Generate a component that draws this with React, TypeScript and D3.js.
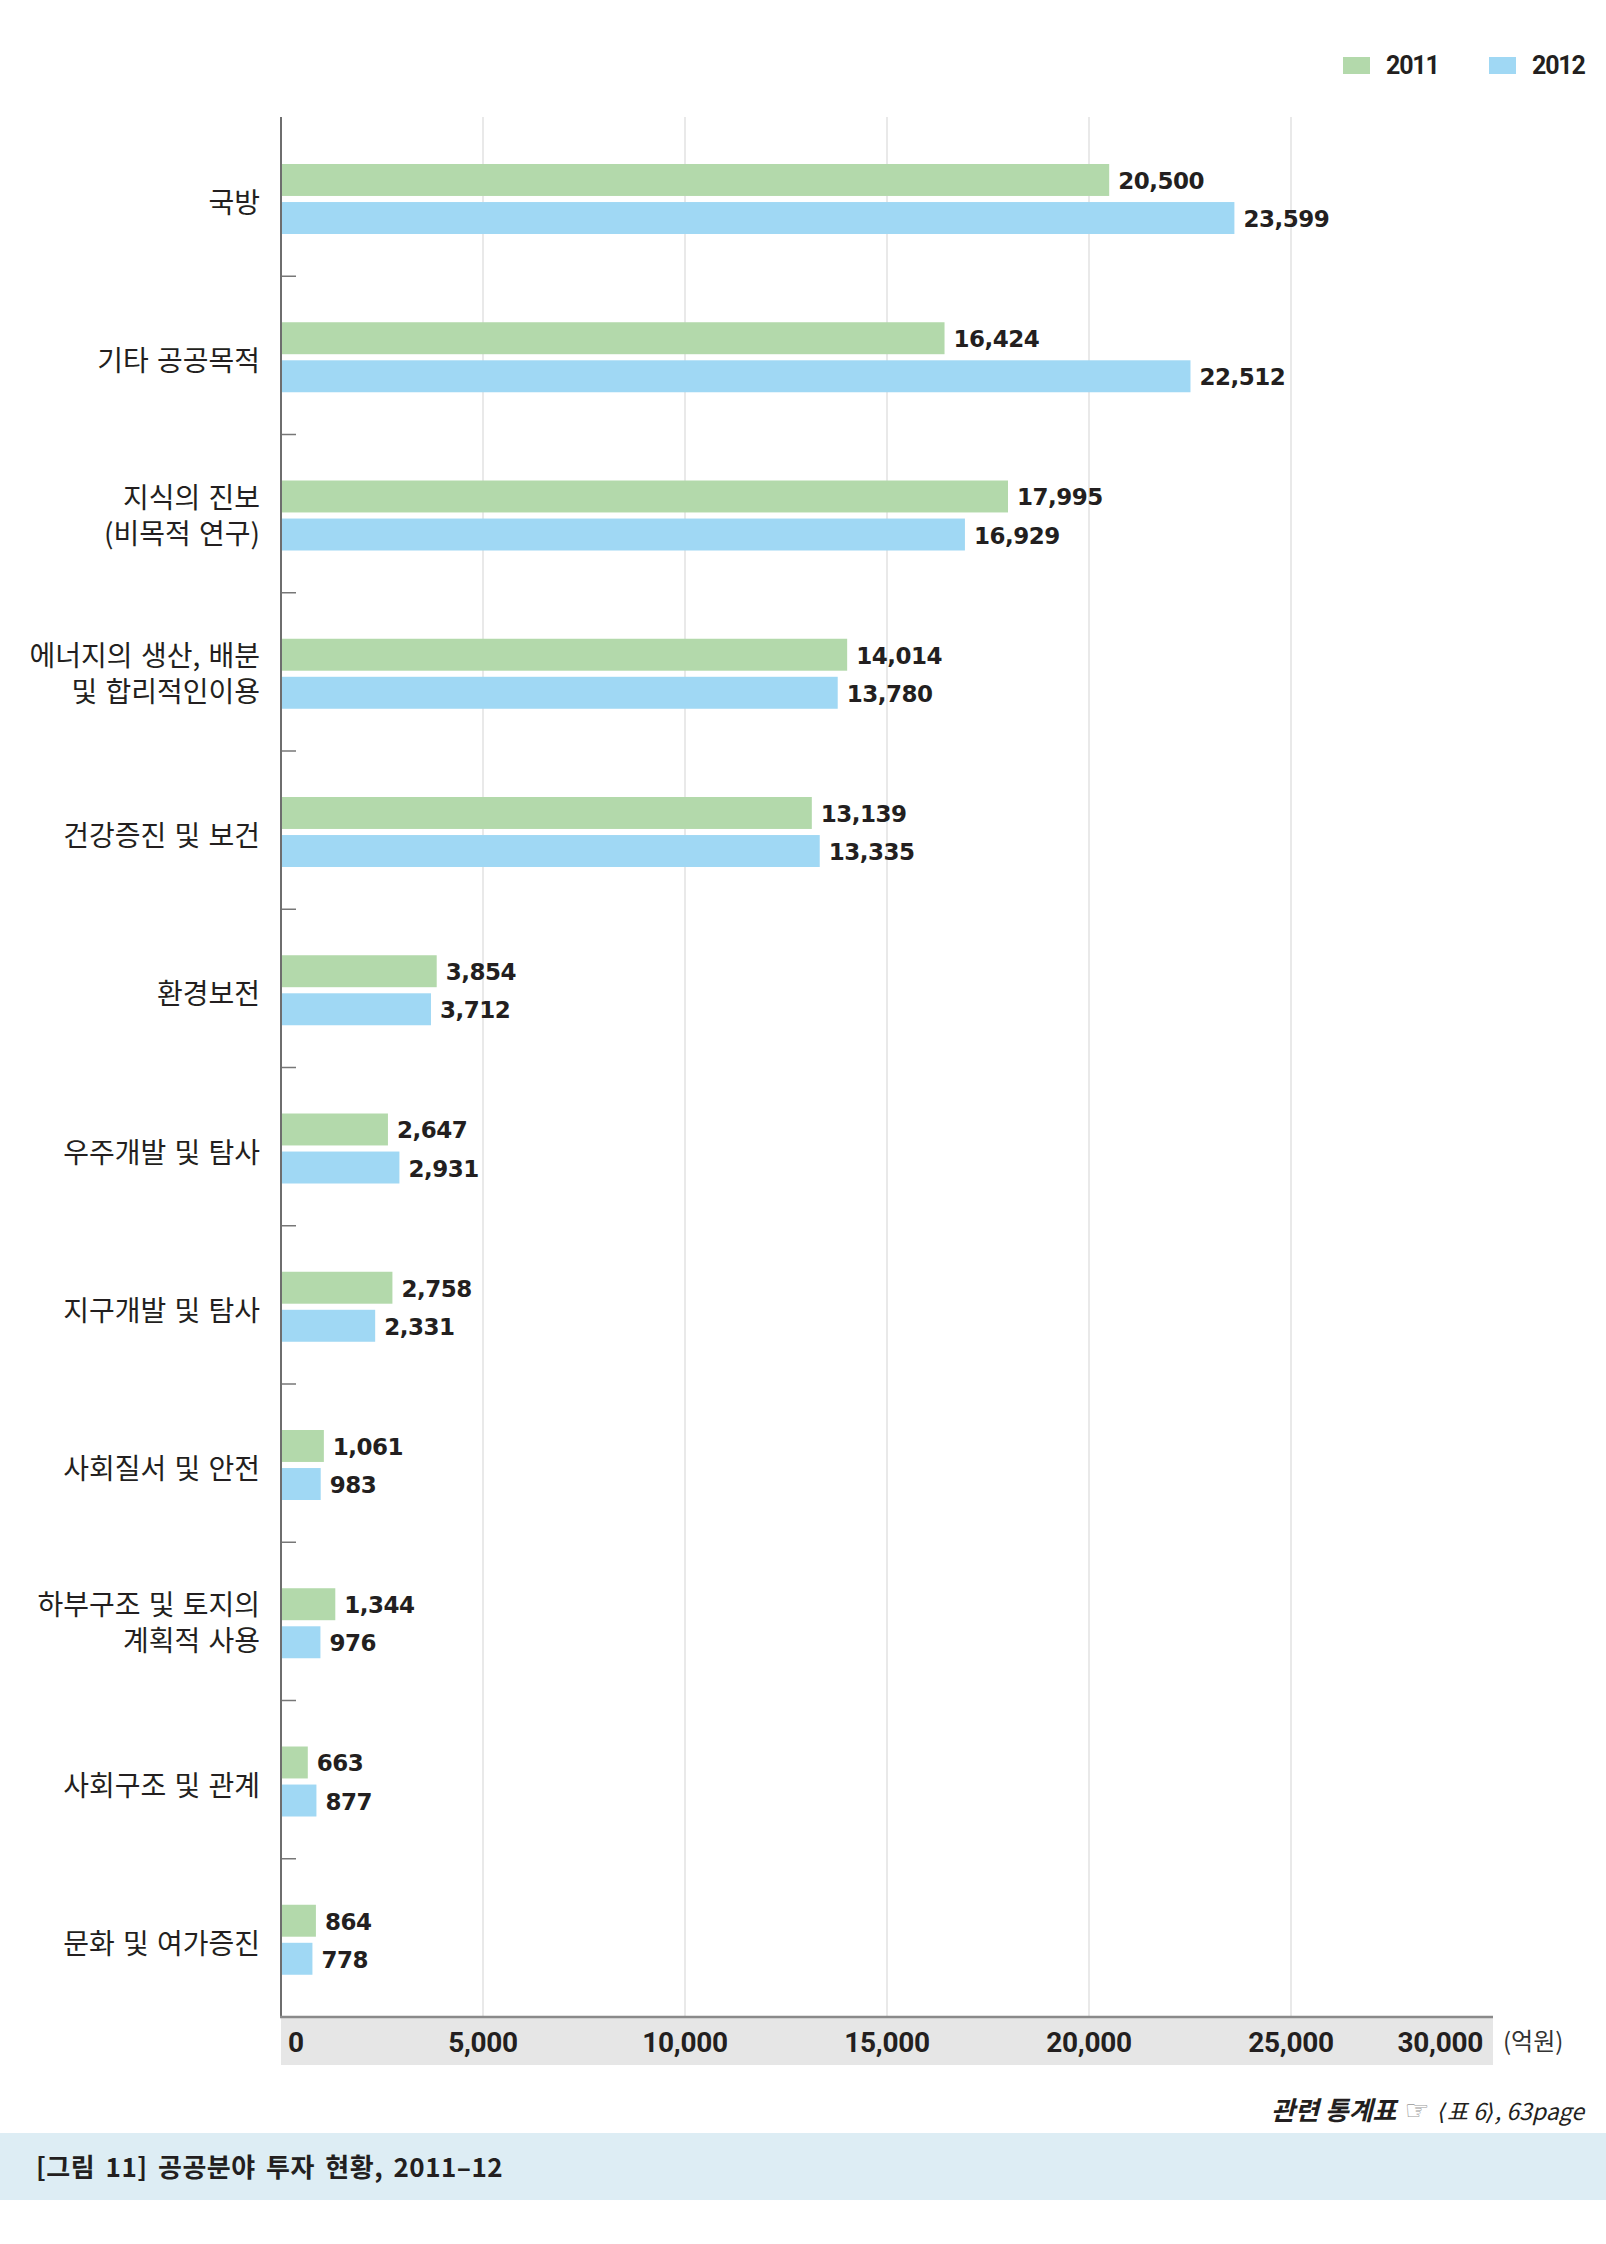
import React from "react";
import * as d3 from "d3";

const categories: string[][] = [
  ["국방"],
  ["기타 공공목적"],
  ["지식의 진보", "(비목적 연구)"],
  ["에너지의 생산, 배분", "및 합리적인이용"],
  ["건강증진 및 보건"],
  ["환경보전"],
  ["우주개발 및 탐사"],
  ["지구개발 및 탐사"],
  ["사회질서 및 안전"],
  ["하부구조 및 토지의", "계획적 사용"],
  ["사회구조 및 관계"],
  ["문화 및 여가증진"],
];
const series = ["2011", "2012"];
const values2011 = [20500, 16424, 17995, 14014, 13139, 3854, 2647, 2758, 1061, 1344, 663, 864];
const values2012 = [23599, 22512, 16929, 13780, 13335, 3712, 2931, 2331, 983, 976, 877, 778];
const xTicks = [0, 5000, 10000, 15000, 20000, 25000, 30000];
const unitLabel = "(억원)";
const caption = "[그림 11] 공공분야 투자 현황, 2011–12";

const COLORS: Record<string, string> = { "2011": "#b3d9ab", "2012": "#a0d8f4" };
const TEXT = "#231f20";
const KR = "'Noto Sans CJK KR', 'Noto Sans', sans-serif";
const NUM = "'DejaVu Sans', sans-serif";
const TICKF = "Roboto, 'Noto Sans', sans-serif";

export default function App() {
  const W = 1606, H = 2244;
  const left = 281, right = 1493, top = 118, bottom = 2017;
  const x = d3.scaleLinear().domain([0, 30000]).range([left, right]);
  const keys = categories.map((c) => c.join(" "));
  const y = d3.scaleBand<string>().domain(keys).range([top, bottom]).padding(0);
  const inner = d3.scaleBand<string>().domain(series).range([46, 116]).paddingInner(0.16);
  const fmt = d3.format(",");
  const vals: Record<string, number[]> = { "2011": values2011, "2012": values2012 };

  return (
    <svg width={W} height={H} style={{ position: "absolute", left: 0, top: 0, background: "#fff" }}>
      {/* legend */}
      {series.map((s, i) => (
        <g key={s} transform={`translate(${1343 + i * 146},0)`}>
          <rect x={0} y={57} width={27} height={17} fill={COLORS[s]} />
          <text x={43} y={74} fontFamily={TICKF} fontWeight={700} fontSize={25} letterSpacing={-1.2} fill={TEXT}>{s}</text>
        </g>
      ))}

      {/* gridlines */}
      {xTicks.filter((t) => t > 0 && t < 30000).map((t) => (
        <line key={t} x1={x(t)} x2={x(t)} y1={top - 1} y2={bottom} stroke="#e2e2e2" strokeWidth={1.5} />
      ))}

      {/* bars */}
      {keys.map((k, ci) => (
        <g key={k}>
          {series.map((s) => {
            const v = vals[s][ci];
            const by = (y(k) as number) + (inner(s) as number);
            const bh = inner.bandwidth();
            return (
              <g key={s}>
                <rect x={x(0)} y={by} width={x(v) - x(0)} height={bh} fill={COLORS[s]} />
                <text x={x(v) + 9} y={by + bh / 2 + 9} fontFamily={NUM} fontWeight={700} fontSize={23} letterSpacing={-0.5} fill={TEXT}>
                  {fmt(v)}
                </text>
              </g>
            );
          })}
          {/* category labels */}
          {categories[ci].length === 1 ? (
            <text x={260} y={(y(k) as number) + 81 + 2} dominantBaseline="central" textAnchor="end" fontFamily={KR} fontSize={28} wordSpacing={2} fill={TEXT}>
              {categories[ci][0]}
            </text>
          ) : (
            categories[ci].map((line, li) => (
              <text key={li} x={260} y={(y(k) as number) + 79 + (li === 0 ? -18 : 18)}
                dominantBaseline="central" textAnchor="end" fontFamily={KR} fontSize={28} wordSpacing={2} fill={TEXT}>
                {line}
              </text>
            ))
          )}
        </g>
      ))}

      {/* separator ticks */}
      {keys.slice(1).map((k) => (
        <line key={k} x1={left} x2={left + 15} y1={y(k) as number} y2={y(k) as number} stroke="#777" strokeWidth={1.5} />
      ))}

      {/* y axis line */}
      <line x1={left} x2={left} y1={top - 1} y2={bottom} stroke="#6e6e6e" strokeWidth={2} />

      {/* bottom axis band */}
      <rect x={left} y={bottom} width={right - left} height={48} fill="#e6e6e6" />
      <line x1={left - 1} x2={right} y1={bottom} y2={bottom} stroke="#8a8a8a" strokeWidth={2.5} />
      {xTicks.map((t, i) => {
        const anchor = i === 0 ? "start" : i === xTicks.length - 1 ? "end" : "middle";
        const tx = i === 0 ? x(t) + 7 : i === xTicks.length - 1 ? x(t) - 10 : x(t);
        return (
          <text key={t} x={tx} y={2052} textAnchor={anchor} fontFamily={TICKF} fontWeight={700} fontSize={28} letterSpacing={-0.3} fill={TEXT}>
            {fmt(t)}
          </text>
        );
      })}
      <text x={1503} y={2050} fontFamily={KR} fontSize={24} fill="#333">{unitLabel}</text>

      {/* source note */}
      <text x={1584} y={2120} textAnchor="end" fontFamily={KR} fontSize={23} fontStyle="italic" fill={TEXT}>
        <tspan fontWeight={700} fontSize={26}>관련 통계표</tspan>
        <tspan fill="#999" fontFamily={NUM} fontSize={28} fontStyle="normal" dx={8}>☞</tspan>
        <tspan fontFamily={NUM} fontSize={23} dx={8}>⟨</tspan>
        <tspan>표 6</tspan>
        <tspan fontFamily={NUM} fontSize={23}>⟩</tspan>
        <tspan>, 63page</tspan>
      </text>

      {/* caption band */}
      <rect x={0} y={2133} width={W} height={67} fill="#ddedf4" />
      <text x={36} y={2177} fontFamily={KR} fontWeight={700} fontSize={26} letterSpacing={0.5} wordSpacing={4} fill={TEXT}>{caption}</text>
    </svg>
  );
}
